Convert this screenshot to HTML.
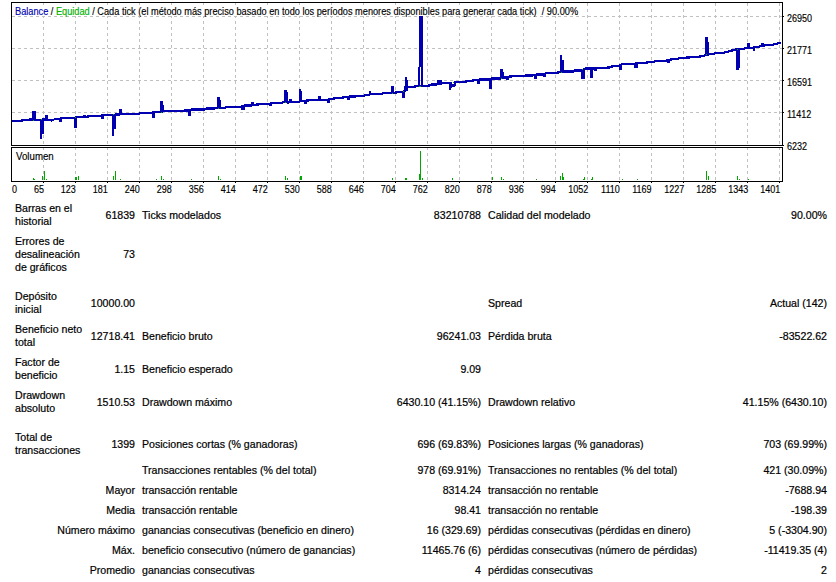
<!DOCTYPE html>
<html><head><meta charset="utf-8"><style>
html,body{margin:0;padding:0;background:#fff;width:836px;height:582px;overflow:hidden;position:relative}
.c{position:absolute;font-family:"Liberation Sans",sans-serif;white-space:pre;color:#000}
.ct{font-size:10px;transform:scaleX(.92);transform-origin:0 0;-webkit-text-stroke:0.15px currentColor}
.ctr{transform-origin:100% 0}
.ax{transform:scaleX(.9)}
.bg{background:#fff;line-height:11px;height:11px;padding-right:2px}
.t{font-size:10.6px;line-height:13px;-webkit-text-stroke:0.2px #000}
.r{text-align:right}
</style></head><body>
<svg width="836" height="200" viewBox="0 0 836 200" style="position:absolute;left:0;top:0" shape-rendering="crispEdges">
<line x1="43.5" y1="3" x2="43.5" y2="145" stroke="#c0c0c0" stroke-dasharray="3 3"/>
<line x1="43.5" y1="147" x2="43.5" y2="181" stroke="#c0c0c0" stroke-dasharray="3 3"/>
<line x1="75.5" y1="3" x2="75.5" y2="145" stroke="#c0c0c0" stroke-dasharray="3 3"/>
<line x1="75.5" y1="147" x2="75.5" y2="181" stroke="#c0c0c0" stroke-dasharray="3 3"/>
<line x1="107.5" y1="3" x2="107.5" y2="145" stroke="#c0c0c0" stroke-dasharray="3 3"/>
<line x1="107.5" y1="147" x2="107.5" y2="181" stroke="#c0c0c0" stroke-dasharray="3 3"/>
<line x1="139.5" y1="3" x2="139.5" y2="145" stroke="#c0c0c0" stroke-dasharray="3 3"/>
<line x1="139.5" y1="147" x2="139.5" y2="181" stroke="#c0c0c0" stroke-dasharray="3 3"/>
<line x1="171.5" y1="3" x2="171.5" y2="145" stroke="#c0c0c0" stroke-dasharray="3 3"/>
<line x1="171.5" y1="147" x2="171.5" y2="181" stroke="#c0c0c0" stroke-dasharray="3 3"/>
<line x1="203.5" y1="3" x2="203.5" y2="145" stroke="#c0c0c0" stroke-dasharray="3 3"/>
<line x1="203.5" y1="147" x2="203.5" y2="181" stroke="#c0c0c0" stroke-dasharray="3 3"/>
<line x1="235.5" y1="3" x2="235.5" y2="145" stroke="#c0c0c0" stroke-dasharray="3 3"/>
<line x1="235.5" y1="147" x2="235.5" y2="181" stroke="#c0c0c0" stroke-dasharray="3 3"/>
<line x1="267.5" y1="3" x2="267.5" y2="145" stroke="#c0c0c0" stroke-dasharray="3 3"/>
<line x1="267.5" y1="147" x2="267.5" y2="181" stroke="#c0c0c0" stroke-dasharray="3 3"/>
<line x1="299.5" y1="3" x2="299.5" y2="145" stroke="#c0c0c0" stroke-dasharray="3 3"/>
<line x1="299.5" y1="147" x2="299.5" y2="181" stroke="#c0c0c0" stroke-dasharray="3 3"/>
<line x1="331.5" y1="3" x2="331.5" y2="145" stroke="#c0c0c0" stroke-dasharray="3 3"/>
<line x1="331.5" y1="147" x2="331.5" y2="181" stroke="#c0c0c0" stroke-dasharray="3 3"/>
<line x1="363.5" y1="3" x2="363.5" y2="145" stroke="#c0c0c0" stroke-dasharray="3 3"/>
<line x1="363.5" y1="147" x2="363.5" y2="181" stroke="#c0c0c0" stroke-dasharray="3 3"/>
<line x1="395.5" y1="3" x2="395.5" y2="145" stroke="#c0c0c0" stroke-dasharray="3 3"/>
<line x1="395.5" y1="147" x2="395.5" y2="181" stroke="#c0c0c0" stroke-dasharray="3 3"/>
<line x1="427.5" y1="3" x2="427.5" y2="145" stroke="#c0c0c0" stroke-dasharray="3 3"/>
<line x1="427.5" y1="147" x2="427.5" y2="181" stroke="#c0c0c0" stroke-dasharray="3 3"/>
<line x1="459.5" y1="3" x2="459.5" y2="145" stroke="#c0c0c0" stroke-dasharray="3 3"/>
<line x1="459.5" y1="147" x2="459.5" y2="181" stroke="#c0c0c0" stroke-dasharray="3 3"/>
<line x1="491.5" y1="3" x2="491.5" y2="145" stroke="#c0c0c0" stroke-dasharray="3 3"/>
<line x1="491.5" y1="147" x2="491.5" y2="181" stroke="#c0c0c0" stroke-dasharray="3 3"/>
<line x1="523.5" y1="3" x2="523.5" y2="145" stroke="#c0c0c0" stroke-dasharray="3 3"/>
<line x1="523.5" y1="147" x2="523.5" y2="181" stroke="#c0c0c0" stroke-dasharray="3 3"/>
<line x1="555.5" y1="3" x2="555.5" y2="145" stroke="#c0c0c0" stroke-dasharray="3 3"/>
<line x1="555.5" y1="147" x2="555.5" y2="181" stroke="#c0c0c0" stroke-dasharray="3 3"/>
<line x1="587.5" y1="3" x2="587.5" y2="145" stroke="#c0c0c0" stroke-dasharray="3 3"/>
<line x1="587.5" y1="147" x2="587.5" y2="181" stroke="#c0c0c0" stroke-dasharray="3 3"/>
<line x1="619.5" y1="3" x2="619.5" y2="145" stroke="#c0c0c0" stroke-dasharray="3 3"/>
<line x1="619.5" y1="147" x2="619.5" y2="181" stroke="#c0c0c0" stroke-dasharray="3 3"/>
<line x1="651.5" y1="3" x2="651.5" y2="145" stroke="#c0c0c0" stroke-dasharray="3 3"/>
<line x1="651.5" y1="147" x2="651.5" y2="181" stroke="#c0c0c0" stroke-dasharray="3 3"/>
<line x1="683.5" y1="3" x2="683.5" y2="145" stroke="#c0c0c0" stroke-dasharray="3 3"/>
<line x1="683.5" y1="147" x2="683.5" y2="181" stroke="#c0c0c0" stroke-dasharray="3 3"/>
<line x1="715.5" y1="3" x2="715.5" y2="145" stroke="#c0c0c0" stroke-dasharray="3 3"/>
<line x1="715.5" y1="147" x2="715.5" y2="181" stroke="#c0c0c0" stroke-dasharray="3 3"/>
<line x1="747.5" y1="3" x2="747.5" y2="145" stroke="#c0c0c0" stroke-dasharray="3 3"/>
<line x1="747.5" y1="147" x2="747.5" y2="181" stroke="#c0c0c0" stroke-dasharray="3 3"/>
<line x1="779.5" y1="3" x2="779.5" y2="145" stroke="#c0c0c0" stroke-dasharray="3 3"/>
<line x1="779.5" y1="147" x2="779.5" y2="181" stroke="#c0c0c0" stroke-dasharray="3 3"/>
<line x1="12" y1="16.5" x2="782" y2="16.5" stroke="#c0c0c0" stroke-dasharray="3 3"/>
<line x1="12" y1="48.5" x2="782" y2="48.5" stroke="#c0c0c0" stroke-dasharray="3 3"/>
<line x1="12" y1="80.5" x2="782" y2="80.5" stroke="#c0c0c0" stroke-dasharray="3 3"/>
<line x1="12" y1="112.5" x2="782" y2="112.5" stroke="#c0c0c0" stroke-dasharray="3 3"/>
<rect x="11.5" y="2.5" width="771" height="143" fill="none" stroke="#000"/>
<rect x="11.5" y="147.5" width="771" height="34" fill="none" stroke="#000"/>
<line x1="782" y1="16.5" x2="784" y2="16.5" stroke="#000"/>
<line x1="782" y1="48.5" x2="784" y2="48.5" stroke="#000"/>
<line x1="782" y1="80.5" x2="784" y2="80.5" stroke="#000"/>
<line x1="782" y1="112.5" x2="784" y2="112.5" stroke="#000"/>
<line x1="782" y1="145.5" x2="784" y2="145.5" stroke="#000"/>
<line x1="43.5" y1="181" x2="43.5" y2="183" stroke="#000"/>
<line x1="75.5" y1="181" x2="75.5" y2="183" stroke="#000"/>
<line x1="107.5" y1="181" x2="107.5" y2="183" stroke="#000"/>
<line x1="139.5" y1="181" x2="139.5" y2="183" stroke="#000"/>
<line x1="171.5" y1="181" x2="171.5" y2="183" stroke="#000"/>
<line x1="203.5" y1="181" x2="203.5" y2="183" stroke="#000"/>
<line x1="235.5" y1="181" x2="235.5" y2="183" stroke="#000"/>
<line x1="267.5" y1="181" x2="267.5" y2="183" stroke="#000"/>
<line x1="299.5" y1="181" x2="299.5" y2="183" stroke="#000"/>
<line x1="331.5" y1="181" x2="331.5" y2="183" stroke="#000"/>
<line x1="363.5" y1="181" x2="363.5" y2="183" stroke="#000"/>
<line x1="395.5" y1="181" x2="395.5" y2="183" stroke="#000"/>
<line x1="427.5" y1="181" x2="427.5" y2="183" stroke="#000"/>
<line x1="459.5" y1="181" x2="459.5" y2="183" stroke="#000"/>
<line x1="491.5" y1="181" x2="491.5" y2="183" stroke="#000"/>
<line x1="523.5" y1="181" x2="523.5" y2="183" stroke="#000"/>
<line x1="555.5" y1="181" x2="555.5" y2="183" stroke="#000"/>
<line x1="587.5" y1="181" x2="587.5" y2="183" stroke="#000"/>
<line x1="619.5" y1="181" x2="619.5" y2="183" stroke="#000"/>
<line x1="651.5" y1="181" x2="651.5" y2="183" stroke="#000"/>
<line x1="683.5" y1="181" x2="683.5" y2="183" stroke="#000"/>
<line x1="715.5" y1="181" x2="715.5" y2="183" stroke="#000"/>
<line x1="747.5" y1="181" x2="747.5" y2="183" stroke="#000"/>
<line x1="779.5" y1="181" x2="779.5" y2="183" stroke="#000"/>
<rect x="33" y="178" width="1" height="2" fill="#00a800"/>
<rect x="34" y="179" width="1" height="1" fill="#00a800"/>
<rect x="42" y="176" width="1" height="4" fill="#00a800"/>
<rect x="44" y="171" width="1" height="9" fill="#00a800"/>
<rect x="46" y="179" width="1" height="1" fill="#00a800"/>
<rect x="75" y="177" width="1" height="3" fill="#00a800"/>
<rect x="76" y="177" width="1" height="3" fill="#00a800"/>
<rect x="78" y="176" width="1" height="4" fill="#00a800"/>
<rect x="113" y="176" width="1" height="4" fill="#00a800"/>
<rect x="115" y="171" width="1" height="9" fill="#00a800"/>
<rect x="120" y="179" width="1" height="1" fill="#00a800"/>
<rect x="156" y="179" width="1" height="1" fill="#00a800"/>
<rect x="161" y="176" width="1" height="4" fill="#00a800"/>
<rect x="163" y="179" width="1" height="1" fill="#00a800"/>
<rect x="191" y="179" width="1" height="1" fill="#00a800"/>
<rect x="218" y="176" width="1" height="4" fill="#00a800"/>
<rect x="220" y="179" width="1" height="1" fill="#00a800"/>
<rect x="285" y="176" width="1" height="4" fill="#00a800"/>
<rect x="287" y="178" width="1" height="2" fill="#00a800"/>
<rect x="300" y="176" width="1" height="4" fill="#00a800"/>
<rect x="301" y="176" width="1" height="4" fill="#00a800"/>
<rect x="392" y="178" width="1" height="2" fill="#00a800"/>
<rect x="405" y="178" width="1" height="2" fill="#00a800"/>
<rect x="406" y="178" width="1" height="2" fill="#00a800"/>
<rect x="419" y="174" width="1" height="6" fill="#00a800"/>
<rect x="420" y="151" width="1" height="29" fill="#00a800"/>
<rect x="422" y="178" width="1" height="2" fill="#00a800"/>
<rect x="452" y="178" width="1" height="2" fill="#00a800"/>
<rect x="492" y="177" width="1" height="3" fill="#00a800"/>
<rect x="501" y="177" width="1" height="3" fill="#00a800"/>
<rect x="503" y="179" width="1" height="1" fill="#00a800"/>
<rect x="536" y="179" width="1" height="1" fill="#00a800"/>
<rect x="560" y="176" width="1" height="4" fill="#00a800"/>
<rect x="562" y="173" width="1" height="7" fill="#00a800"/>
<rect x="563" y="177" width="1" height="3" fill="#00a800"/>
<rect x="583" y="179" width="1" height="1" fill="#00a800"/>
<rect x="584" y="177" width="1" height="3" fill="#00a800"/>
<rect x="591" y="179" width="1" height="1" fill="#00a800"/>
<rect x="592" y="177" width="1" height="3" fill="#00a800"/>
<rect x="622" y="179" width="1" height="1" fill="#00a800"/>
<rect x="637" y="179" width="1" height="1" fill="#00a800"/>
<rect x="706" y="171" width="1" height="9" fill="#00a800"/>
<rect x="708" y="176" width="1" height="4" fill="#00a800"/>
<rect x="737" y="176" width="1" height="4" fill="#00a800"/>
<rect x="739" y="179" width="1" height="1" fill="#00a800"/>
<rect x="748" y="179" width="1" height="1" fill="#00a800"/>
<rect x="83" y="115" width="3" height="2.5" fill="#0000b0"/>
<rect x="101" y="116" width="3" height="2.5" fill="#0000b0"/>
<rect x="241" y="107" width="4" height="2.5" fill="#0000b0"/>
<rect x="251" y="102.3" width="3" height="3.200000000000003" fill="#0000b0"/>
<rect x="269" y="103.5" width="3" height="2.0" fill="#0000b0"/>
<rect x="543" y="74" width="3" height="2.5" fill="#0000b0"/>
<rect x="594" y="68" width="3" height="2.5" fill="#0000b0"/>
<rect x="667" y="60" width="3" height="3" fill="#0000b0"/>
<rect x="59" y="119" width="3" height="2.5" fill="#0000b0"/>
<rect x="32" y="111" width="4" height="9" fill="#0000b0"/>
<rect x="34" y="113" width="2" height="7" fill="#0000b0"/>
<rect x="40" y="119" width="2" height="20" fill="#0000b0"/>
<rect x="42" y="119" width="1.5" height="15" fill="#0000b0"/>
<rect x="45" y="115" width="3" height="5" fill="#0000b0"/>
<rect x="74" y="117" width="3" height="11" fill="#0000b0"/>
<rect x="111.5" y="114" width="2.5" height="22" fill="#0000b0"/>
<rect x="114" y="114" width="1.5" height="15" fill="#0000b0"/>
<rect x="119" y="109" width="3" height="6" fill="#0000b0"/>
<rect x="152" y="112" width="3" height="5.5" fill="#0000b0"/>
<rect x="160" y="101" width="2.5" height="11.5" fill="#0000b0"/>
<rect x="162.5" y="105" width="1.0" height="7" fill="#0000b0"/>
<rect x="188" y="109" width="3" height="7" fill="#0000b0"/>
<rect x="217" y="97" width="2.5" height="11.5" fill="#0000b0"/>
<rect x="219.5" y="100" width="1.5" height="8.5" fill="#0000b0"/>
<rect x="284" y="90" width="3" height="13" fill="#0000b0"/>
<rect x="287" y="92" width="1" height="11" fill="#0000b0"/>
<rect x="289" y="99" width="3" height="3" fill="#0000b0"/>
<rect x="298.5" y="89" width="2.5" height="13" fill="#0000b0"/>
<rect x="301" y="91" width="1" height="11" fill="#0000b0"/>
<rect x="304" y="100" width="3" height="4" fill="#0000b0"/>
<rect x="318" y="96.3" width="3" height="4.200000000000003" fill="#0000b0"/>
<rect x="327" y="99" width="2.6000000000000227" height="4" fill="#0000b0"/>
<rect x="347" y="96" width="3" height="4" fill="#0000b0"/>
<rect x="368.5" y="91.3" width="2.5" height="3.700000000000003" fill="#0000b0"/>
<rect x="391" y="86" width="3" height="7.5" fill="#0000b0"/>
<rect x="401.7" y="91" width="3.5" height="7.400000000000006" fill="#0000b0"/>
<rect x="405" y="77" width="2" height="14" fill="#0000b0"/>
<rect x="407" y="80" width="1" height="11" fill="#0000b0"/>
<rect x="418" y="67" width="2" height="19" fill="#0000b0"/>
<rect x="421" y="16" width="2" height="71" fill="#0000b0"/>
<rect x="419" y="16" width="2" height="51" fill="#0000b0"/>
<rect x="422.5" y="22" width="0.8000000000000114" height="65" fill="#0000b0"/>
<rect x="437" y="80" width="5" height="5" fill="#0000b0"/>
<rect x="449" y="82" width="2" height="8.400000000000006" fill="#0000b0"/>
<rect x="451" y="82" width="1" height="6" fill="#0000b0"/>
<rect x="477" y="79" width="3" height="4.700000000000003" fill="#0000b0"/>
<rect x="488.5" y="78" width="3.1999999999999886" height="11" fill="#0000b0"/>
<rect x="500" y="69" width="2.5" height="10" fill="#0000b0"/>
<rect x="502.5" y="72" width="1.1999999999999886" height="7" fill="#0000b0"/>
<rect x="506" y="76" width="3" height="3.700000000000003" fill="#0000b0"/>
<rect x="534" y="74" width="2.5" height="4.700000000000003" fill="#0000b0"/>
<rect x="560" y="55" width="2" height="17.5" fill="#0000b0"/>
<rect x="562" y="60" width="1.6000000000000227" height="12.5" fill="#0000b0"/>
<rect x="581" y="70" width="3.7000000000000455" height="8.700000000000003" fill="#0000b0"/>
<rect x="589.5" y="67.5" width="3.5" height="10.0" fill="#0000b0"/>
<rect x="619" y="65" width="3" height="4.700000000000003" fill="#0000b0"/>
<rect x="634" y="63" width="4" height="4.5" fill="#0000b0"/>
<rect x="705" y="37" width="2.5" height="19" fill="#0000b0"/>
<rect x="707.5" y="41.5" width="1.2999999999999545" height="14.5" fill="#0000b0"/>
<rect x="736.2" y="49" width="2.7999999999999545" height="20.700000000000003" fill="#0000b0"/>
<rect x="739" y="49" width="0.7999999999999545" height="18.5" fill="#0000b0"/>
<rect x="747" y="43" width="3" height="5.5" fill="#0000b0"/>
<rect x="753" y="47" width="2" height="3.6000000000000014" fill="#0000b0"/>
<rect x="761" y="43" width="3" height="3.5" fill="#0000b0"/>
<path d="M12,121 L22,121 L22,120 L29,120 L29,119.5 L32,119.5 L36,120 L40,120 L43,119.5 L45,119.5 L48,120 L52,120.5 L55,119 L59,119 L62,118 L74,118 L77,117 L82,117 L86,117 L90,116 L100,116 L104,115 L111,115 L116,114.5 L119,114.5 L122,114 L139,114 L140,113 L150,113 L155,112 L160,112 L163,111 L170,111 L188,110.5 L191,109.5 L205,109.5 L206,108.5 L214,108.5 L221,108 L230,107 L240,107 L245,105.5 L251,105.5 L253,105 L257,104.5 L269,104 L272,103 L281,103 L284,102 L288,102.5 L292,102 L297,102 L302,101 L307,100.5 L318,100 L321,100 L327,100 L330,99 L334,98.5 L343,97.5 L347,97 L350,96.5 L355,96.5 L361,96 L368,95 L371,94 L382,93.8 L383,93 L391,93 L401.7,92 L405,91 L405,87 L415,87 L415,86 L418,86 L423,86 L430,85.5 L431,84.5 L437,84.5 L442,83 L449,83 L452,85.5 L455,85.5 L455,82 L466,82 L466,81 L473,81 L473,80 L477,80 L480,79.5 L488,79.5 L492,78.5 L500,78.5 L504,77.5 L506,77.5 L509,76.5 L525,76 L525,75.5 L532,75.5 L534,75 L537,74.5 L543,74.5 L546,73 L558,73 L558,72 L564,71.5 L574,71.5 L574,70.5 L581,70.5 L585,68.5 L589.5,68.5 L593,68.5 L598,68 L610,67.5 L611,66.5 L619,66 L622,64 L634,64 L638,63 L647,63 L647,62 L654,62 L655,61 L664,61 L667,60.5 L671,59.5 L677,59 L680,58 L688,57.5 L697,57 L700,56.5 L705,55.5 L709,54 L713,54 L714,53.5 L721,53 L728,52 L729,51 L732,50.5 L736,49.5 L740,49 L745,48.7 L745,47.8 L753,47.8 L755,47 L760,46.5 L760,46 L764,45.5 L766,45 L773,45 L774,44 L781,43" fill="none" stroke="#0000b0" stroke-width="2.2" shape-rendering="crispEdges" stroke-linejoin="miter" stroke-miterlimit="1"/>
<rect x="33" y="120" width="1" height="1" fill="#00b000"/>
<rect x="41" y="119" width="1" height="1" fill="#00b000"/>
<rect x="75" y="117" width="1" height="1" fill="#00b000"/>
<rect x="113" y="114" width="1" height="1" fill="#00b000"/>
<rect x="161" y="112" width="1" height="1" fill="#00b000"/>
<rect x="218" y="108" width="1" height="1" fill="#00b000"/>
<rect x="285" y="102" width="1" height="1" fill="#00b000"/>
<rect x="392" y="93" width="1" height="1" fill="#00b000"/>
<rect x="403" y="91" width="1" height="1" fill="#00b000"/>
<rect x="419" y="86" width="1" height="1" fill="#00b000"/>
<rect x="420" y="86" width="1" height="1" fill="#00b000"/>
<rect x="453" y="82" width="1" height="1" fill="#00b000"/>
<rect x="501" y="78" width="1" height="1" fill="#00b000"/>
<rect x="561" y="72" width="1" height="1" fill="#00b000"/>
<rect x="582" y="69" width="1" height="1" fill="#00b000"/>
<rect x="706" y="54" width="1" height="1" fill="#00b000"/>
<rect x="737" y="49" width="1" height="1" fill="#00b000"/>
</svg>
<div class="c ct bg" style="left:15px;top:5px;"><span style="position:relative;top:1px"><span style="color:#0000b0">Balance</span> / <span style="color:#00b000">Equidad</span> / Cada tick (el método más preciso basado en todo los períodos menores disponibles para generar cada tick)  / 90.00%</span></div>
<div class="c ct bg" style="left:16px;top:150px;height:10px;transform:scaleX(.97)"><span style="position:relative;top:1px">Volumen</span></div>
<div class="c ct ax" style="left:787px;top:13px;">26950</div>
<div class="c ct ax" style="left:787px;top:45px;">21771</div>
<div class="c ct ax" style="left:787px;top:77px;">16591</div>
<div class="c ct ax" style="left:787px;top:109px;">11412</div>
<div class="c ct ax" style="left:787px;top:141px;">6232</div>
<div class="c ct ax" style="left:12px;top:184px;">0</div>
<div class="c ct ctr ax r" style="right:792px;top:184px;">65</div>
<div class="c ct ctr ax r" style="right:760px;top:184px;">123</div>
<div class="c ct ctr ax r" style="right:728px;top:184px;">181</div>
<div class="c ct ctr ax r" style="right:696px;top:184px;">240</div>
<div class="c ct ctr ax r" style="right:664px;top:184px;">298</div>
<div class="c ct ctr ax r" style="right:632px;top:184px;">356</div>
<div class="c ct ctr ax r" style="right:600px;top:184px;">414</div>
<div class="c ct ctr ax r" style="right:568px;top:184px;">472</div>
<div class="c ct ctr ax r" style="right:536px;top:184px;">530</div>
<div class="c ct ctr ax r" style="right:504px;top:184px;">588</div>
<div class="c ct ctr ax r" style="right:472px;top:184px;">646</div>
<div class="c ct ctr ax r" style="right:440px;top:184px;">704</div>
<div class="c ct ctr ax r" style="right:408px;top:184px;">762</div>
<div class="c ct ctr ax r" style="right:376px;top:184px;">820</div>
<div class="c ct ctr ax r" style="right:344px;top:184px;">878</div>
<div class="c ct ctr ax r" style="right:312px;top:184px;">936</div>
<div class="c ct ctr ax r" style="right:280px;top:184px;">994</div>
<div class="c ct ctr ax r" style="right:248px;top:184px;">1052</div>
<div class="c ct ctr ax r" style="right:216px;top:184px;">1110</div>
<div class="c ct ctr ax r" style="right:184px;top:184px;">1169</div>
<div class="c ct ctr ax r" style="right:152px;top:184px;">1227</div>
<div class="c ct ctr ax r" style="right:120px;top:184px;">1285</div>
<div class="c ct ctr ax r" style="right:88px;top:184px;">1343</div>
<div class="c ct ctr ax r" style="right:56px;top:184px;">1401</div>
<div class="c t" style="left:15px;top:202px;">Barras en el</div>
<div class="c t" style="left:15px;top:215px;">historial</div>
<div class="c t r" style="right:701px;top:208.5px;">61839</div>
<div class="c t" style="left:142px;top:208.5px;">Ticks modelados</div>
<div class="c t r" style="right:355px;top:208.5px;">83210788</div>
<div class="c t" style="left:488px;top:208.5px;">Calidad del modelado</div>
<div class="c t r" style="right:9px;top:208.5px;">90.00%</div>
<div class="c t" style="left:15px;top:235px;">Errores de</div>
<div class="c t" style="left:15px;top:248px;">desalineación</div>
<div class="c t" style="left:15px;top:261px;">de gráficos</div>
<div class="c t r" style="right:701px;top:248.0px;">73</div>
<div class="c t" style="left:15px;top:290px;">Depósito</div>
<div class="c t" style="left:15px;top:303px;">inicial</div>
<div class="c t r" style="right:701px;top:296.5px;">10000.00</div>
<div class="c t" style="left:488px;top:296.5px;">Spread</div>
<div class="c t r" style="right:9px;top:296.5px;">Actual (142)</div>
<div class="c t" style="left:15px;top:323px;">Beneficio neto</div>
<div class="c t" style="left:15px;top:336px;">total</div>
<div class="c t r" style="right:701px;top:329.5px;">12718.41</div>
<div class="c t" style="left:142px;top:329.5px;">Beneficio bruto</div>
<div class="c t r" style="right:355px;top:329.5px;">96241.03</div>
<div class="c t" style="left:488px;top:329.5px;">Pérdida bruta</div>
<div class="c t r" style="right:9px;top:329.5px;">-83522.62</div>
<div class="c t" style="left:15px;top:356px;">Factor de</div>
<div class="c t" style="left:15px;top:369px;">beneficio</div>
<div class="c t r" style="right:701px;top:362.5px;">1.15</div>
<div class="c t" style="left:142px;top:362.5px;">Beneficio esperado</div>
<div class="c t r" style="right:355px;top:362.5px;">9.09</div>
<div class="c t" style="left:15px;top:389px;">Drawdown</div>
<div class="c t" style="left:15px;top:402px;">absoluto</div>
<div class="c t r" style="right:701px;top:395.5px;">1510.53</div>
<div class="c t" style="left:142px;top:395.5px;">Drawdown máximo</div>
<div class="c t r" style="right:355px;top:395.5px;">6430.10 (41.15%)</div>
<div class="c t" style="left:488px;top:395.5px;">Drawdown relativo</div>
<div class="c t r" style="right:9px;top:395.5px;">41.15% (6430.10)</div>
<div class="c t" style="left:15px;top:431px;">Total de</div>
<div class="c t" style="left:15px;top:444px;">transacciones</div>
<div class="c t r" style="right:701px;top:437.5px;">1399</div>
<div class="c t" style="left:142px;top:437.5px;">Posiciones cortas (% ganadoras)</div>
<div class="c t r" style="right:355px;top:437.5px;">696 (69.83%)</div>
<div class="c t" style="left:488px;top:437.5px;">Posiciones largas (% ganadoras)</div>
<div class="c t r" style="right:9px;top:437.5px;">703 (69.99%)</div>
<div class="c t" style="left:142px;top:464px;">Transacciones rentables (% del total)</div>
<div class="c t r" style="right:355px;top:464px;">978 (69.91%)</div>
<div class="c t" style="left:488px;top:464px;">Transacciones no rentables (% del total)</div>
<div class="c t r" style="right:9px;top:464px;">421 (30.09%)</div>
<div class="c t r" style="right:701px;top:484px;">Mayor</div>
<div class="c t" style="left:142px;top:484px;">transacción rentable</div>
<div class="c t r" style="right:355px;top:484px;">8314.24</div>
<div class="c t" style="left:488px;top:484px;">transacción no rentable</div>
<div class="c t r" style="right:9px;top:484px;">-7688.94</div>
<div class="c t r" style="right:701px;top:504px;">Media</div>
<div class="c t" style="left:142px;top:504px;">transacción rentable</div>
<div class="c t r" style="right:355px;top:504px;">98.41</div>
<div class="c t" style="left:488px;top:504px;">transacción no rentable</div>
<div class="c t r" style="right:9px;top:504px;">-198.39</div>
<div class="c t r" style="right:701px;top:524px;">Número máximo</div>
<div class="c t" style="left:142px;top:524px;">ganancias consecutivas (beneficio en dinero)</div>
<div class="c t r" style="right:355px;top:524px;">16 (329.69)</div>
<div class="c t" style="left:488px;top:524px;">pérdidas consecutivas (pérdidas en dinero)</div>
<div class="c t r" style="right:9px;top:524px;">5 (-3304.90)</div>
<div class="c t r" style="right:701px;top:544px;">Máx.</div>
<div class="c t" style="left:142px;top:544px;">beneficio consecutivo (número de ganancias)</div>
<div class="c t r" style="right:355px;top:544px;">11465.76 (6)</div>
<div class="c t" style="left:488px;top:544px;">pérdidas consecutivas (número de pérdidas)</div>
<div class="c t r" style="right:9px;top:544px;">-11419.35 (4)</div>
<div class="c t r" style="right:701px;top:564px;">Promedio</div>
<div class="c t" style="left:142px;top:564px;">ganancias consecutivas</div>
<div class="c t r" style="right:355px;top:564px;">4</div>
<div class="c t" style="left:488px;top:564px;">pérdidas consecutivas</div>
<div class="c t r" style="right:9px;top:564px;">2</div>
</body></html>
